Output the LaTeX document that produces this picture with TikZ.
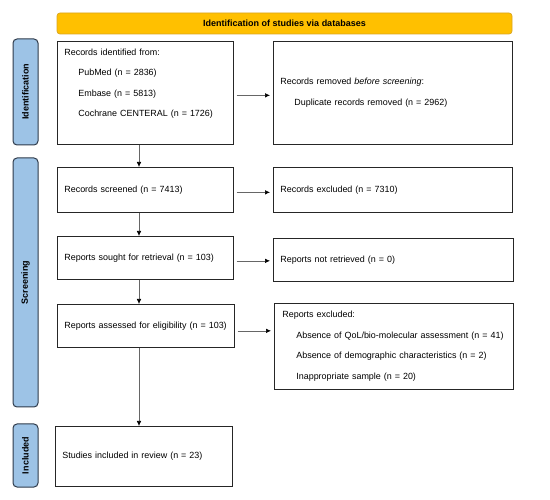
\documentclass[tikz,border=0pt]{standalone}
\usepackage{fontspec}
\setmainfont{Liberation Sans}
\usepackage{xcolor}
\usetikzlibrary{arrows.meta}

\definecolor{headgold}{HTML}{FFC000}
\definecolor{headrim}{HTML}{D9A420}
\definecolor{phaseblue}{HTML}{9DC3E6}
\definecolor{phaserim}{HTML}{2E3A4A}

\begin{document}
\begin{tikzpicture}[
            x = 1pt, y = -1pt, % pixel grid, y grows downward
            > = {Latex[length=5pt,width=4.5pt,color=black]}, % arrow head style
            font = \fontsize{8.95}{20.5}\selectfont
        ]
        \useasboundingbox (0,0) rectangle (550,500);

        \tikzstyle{box}=[
            draw = black!85,
            line width = 0.7pt,
            fill = white,
            anchor = north west,
            align = left,
            inner xsep = 7pt,
            inner ysep = 0pt
        ]
        \tikzstyle{phase}=[
            draw = phaserim,
            line width = 1pt,
            fill = phaseblue,
            rounded corners = 4pt,
            rotate = 90,
            minimum height = 25pt,
            inner sep = 0pt,
            font = \fontsize{9}{11}\selectfont\bfseries
        ]
        \tikzstyle{flow}=[->, draw = black!60, line width = 0.6pt]

        % header and phase bars
        \node[draw=headrim, fill=headgold, rounded corners=3pt, line width=0.7pt,
              minimum width=455pt, minimum height=21pt,
              font=\fontsize{9}{11}\selectfont\bfseries] (head) at (284.5,23.5)
              {Identification of studies via databases};
        \node[phase, minimum width=106pt] (idbar) at (25.5,92) {Identification};
        \node[phase, minimum width=249pt] (scrbar) at (25.5,282.5) {Screening};
        \node[phase, minimum width=63pt] (incbar) at (25.5,455.5) {Included};

        % left column
        \node[box, text width=162pt, minimum height=103pt] (ident) at (57,41)
            {Records identified from:\\
             \hspace*{14pt}PubMed (n = 2836)\\
             \hspace*{14pt}Embase (n = 5813)\\
             \hspace*{14pt}Cochrane CENTERAL (n = 1726)\\ ~};
        \node[box, text width=162pt, minimum height=45pt] (screen) at (57,167)
            {Records screened (n = 7413)};
        \node[box, text width=162pt, minimum height=43pt] (sought) at (57,236)
            {Reports sought for retrieval (n = 103)};
        \node[box, text width=163pt, minimum height=43pt] (assess) at (57,304)
            {\mbox{Reports assessed for eligibility (n = 103)}};
        \node[box, text width=163pt, minimum height=60pt] (incl) at (55,426)
            {Studies included in review (n = 23)};

        % right column
        \node[box, text width=225pt, minimum height=103pt] (removed) at (273,41)
            {Records removed \emph{before screening}:\\
             \hspace*{14pt}Duplicate records removed (n = 2962)};
        \node[box, text width=225pt, minimum height=45pt] (excl) at (273,167)
            {Records excluded (n = 7310)};
        \node[box, text width=226pt, minimum height=43pt] (notret) at (273,238)
            {Reports not retrieved (n = 0)};
        \node[box, text width=223pt, minimum height=86pt, inner xsep=8pt] (repexcl) at (274,303)
            {Reports excluded:\\
             \hspace*{14pt}Absence of QoL/bio-molecular assessment (n = 41)\\
             \hspace*{14pt}Absence of demographic characteristics (n = 2)\\
             \hspace*{14pt}Inappropriate sample (n = 20)};

        \coordinate (colx) at (139,0);

        \draw[flow] (ident.south -| colx) -- (screen.north -| colx);
        \draw[flow] (screen.south -| colx) -- (sought.north -| colx);
        \draw[flow] (sought.south -| colx) -- (assess.north -| colx);
        \draw[flow] (assess.south -| colx) -- (incl.north -| colx);

        \draw[flow, shorten <=3pt, shorten >=3pt] ([yshift=-2.5pt]ident.east) -- ([yshift=-2.5pt]ident.east -| removed.west);
        \draw[flow, shorten <=3pt, shorten >=3pt] ([yshift=-2.5pt]screen.east) -- ([yshift=-2.5pt]screen.east -| excl.west);
        \draw[flow, shorten <=3pt, shorten >=3pt] ([yshift=-3pt]sought.east) -- ([yshift=-3pt]sought.east -| notret.west);
        \draw[flow, shorten <=3pt, shorten >=3pt] ([yshift=-5pt]assess.east) -- ([yshift=-5pt]assess.east -| repexcl.west);
    \end{tikzpicture}
\end{document}
